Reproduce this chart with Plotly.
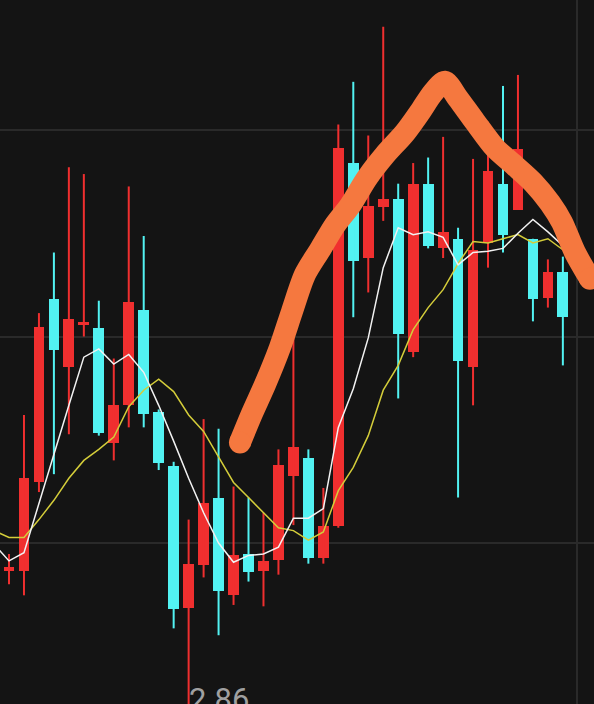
import plotly.graph_objects as go

# ---- data (candle index 0 = first fully visible candle; -1 is cut at the left edge)
idx = list(range(-1, 38))
opens = [2.964, 2.980, 2.980, 3.044, 3.177, 3.128, 3.158, 3.156, 3.073, 3.100,
         3.169, 3.095, 3.056, 2.953, 2.984, 3.033, 2.962, 2.992, 2.980, 2.988,
         3.049, 3.062, 2.989, 3.012, 3.276, 3.207, 3.244, 3.250, 3.139, 3.261,
         3.214, 3.221, 3.128, 3.218, 3.261, 3.242, 3.221, 3.178, 3.197]
highs = [2.980, 2.992, 3.093, 3.167, 3.211, 3.273, 3.268, 3.176, 3.134, 3.259,
         3.223, 3.097, 3.059, 3.017, 3.090, 3.083, 3.041, 3.033, 3.022, 3.068,
         3.155, 3.068, 3.040, 3.304, 3.335, 3.296, 3.375, 3.261, 3.276, 3.280,
         3.295, 3.229, 3.279, 3.306, 3.332, 3.340, 3.221, 3.206, 3.208]
lows = [2.962, 2.970, 2.962, 3.037, 3.050, 3.079, 3.150, 3.078, 3.060, 3.084,
        3.084, 3.053, 2.938, 2.860, 2.975, 2.933, 2.955, 2.972, 2.954, 2.977,
        3.013, 2.985, 2.985, 3.011, 3.164, 3.182, 3.234, 3.105, 3.135, 3.214,
        3.207, 3.033, 3.100, 3.200, 3.211, 3.242, 3.161, 3.171, 3.129]
closes = [2.977, 2.982, 3.047, 3.157, 3.140, 3.163, 3.160, 3.080, 3.100, 3.175,
          3.094, 3.058, 2.952, 2.985, 3.029, 2.965, 2.991, 2.979, 2.987, 3.057,
          3.070, 2.989, 3.012, 3.287, 3.205, 3.245, 3.250, 3.152, 3.261, 3.216,
          3.226, 3.132, 3.213, 3.270, 3.224, 3.286, 3.177, 3.197, 3.164]
ma5 = [2.999, 2.987, 2.993, 3.029, 3.064, 3.100, 3.135, 3.141, 3.130, 3.137,
       3.124, 3.100, 3.074, 3.047, 3.022, 3.000, 2.986, 2.991, 2.992, 2.997,
       3.018, 3.018, 3.025, 3.084, 3.112, 3.149, 3.200, 3.229, 3.224, 3.226,
       3.222, 3.202, 3.211, 3.212, 3.214, 3.225, 3.235, 3.226, 3.216]
ma10 = [3.009, 3.004, 3.004, 3.017, 3.031, 3.047, 3.060, 3.068, 3.077, 3.099,
        3.111, 3.119, 3.110, 3.093, 3.081, 3.062, 3.044, 3.033, 3.022, 3.011,
        3.009, 3.002, 3.008, 3.038, 3.055, 3.078, 3.111, 3.129, 3.155, 3.171,
        3.184, 3.203, 3.219, 3.218, 3.221, 3.224, 3.218, 3.221, 3.213]
# hand-drawn orange trend stroke (candle index, price)
trend_x = [15.43, 16.23, 17.10, 18.10, 18.90, 19.77, 20.78, 21.78, 22.78, 23.91,
           25.12, 26.45, 27.45, 28.32, 29.12, 29.99, 31.13, 32.46, 33.80, 35.00,
           36.14, 36.94, 37.81, 38.81]
trend_y = [3.073, 3.094, 3.115, 3.142, 3.168, 3.195, 3.213, 3.231, 3.245, 3.265,
           3.282, 3.298, 3.313, 3.327, 3.335, 3.323, 3.306, 3.287, 3.274, 3.262,
           3.247, 3.233, 3.211, 3.192]
grid_prices = [3.00, 3.15, 3.30]
low_label = "2.86"
low_label_idx = 12
low_label_price = 2.901

RED = "#f02f2f"
CYAN = "#52f2f2"
BG = "#141414"
GRID = "#2a2a2a"

fig = go.Figure()

# wicks
for color, up in ((RED, True), (CYAN, False)):
    wx, wy = [], []
    for i, o, h, l, c in zip(idx, opens, highs, lows, closes):
        if (c >= o) == up:
            wx += [i, i, None]
            wy += [l, h, None]
    fig.add_trace(go.Scatter(x=wx, y=wy, mode="lines", line=dict(color=color, width=2),
                             hoverinfo="skip", showlegend=False))

# bodies
base = [min(o, c) for o, c in zip(opens, closes)]
height = [max(abs(c - o), 0.0025) for o, c in zip(opens, closes)]
colors = [RED if c >= o else CYAN for o, c in zip(opens, closes)]
fig.add_trace(go.Bar(x=idx, y=height, base=base, width=0.72,
                     marker=dict(color=colors, line=dict(width=0)),
                     showlegend=False, hoverinfo="skip"))

# moving averages
fig.add_trace(go.Scatter(x=idx, y=ma10, mode="lines", line=dict(color="#d4cd3a", width=1.5),
                         showlegend=False, hoverinfo="skip"))
fig.add_trace(go.Scatter(x=idx, y=ma5, mode="lines", line=dict(color="#f2f2f2", width=1.5),
                         showlegend=False, hoverinfo="skip"))

# orange stroke
ORANGE = "#f5783f"
fig.add_trace(go.Scatter(x=trend_x, y=trend_y, mode="lines",
                         line=dict(color=ORANGE, width=22, shape="spline", smoothing=0.8),
                         showlegend=False, hoverinfo="skip"))
fig.add_trace(go.Scatter(x=[trend_x[0], trend_x[-1]], y=[trend_y[0], trend_y[-1]], mode="markers",
                         marker=dict(color=ORANGE, size=22, line=dict(width=0)),
                         showlegend=False, hoverinfo="skip"))

fig.add_annotation(x=low_label_idx, y=low_label_price, xref="x", yref="y",
                   text=low_label, showarrow=False, xanchor="left", yanchor="top",
                   xshift=-2, font=dict(family="Roboto", size=31, color="#a0a0a0"))

fig.add_shape(type="line", xref="paper", yref="paper", x0=577 / 594, x1=577 / 594, y0=0, y1=1,
              line=dict(color=GRID, width=2), layer="below")

fig.update_layout(
    width=594, height=704,
    margin=dict(l=0, r=0, t=0, b=0),
    paper_bgcolor=BG, plot_bgcolor=BG,
    barmode="overlay", bargap=0,
    showlegend=False,
    xaxis=dict(range=[-0.601, 39.08], showgrid=False, zeroline=False,
               showticklabels=False, ticks="", showline=False, fixedrange=True),
    yaxis=dict(range=[2.88305, 3.39443], tickvals=grid_prices, showgrid=True,
               gridcolor=GRID, gridwidth=2, zeroline=False, showticklabels=False,
               ticks="", showline=False, fixedrange=True),
)

fig.write_html("out.html", config={"displayModeBar": False},
               post_script="document.body.style.margin='0';document.body.style.background='#141414';document.body.style.overflow='hidden';")
